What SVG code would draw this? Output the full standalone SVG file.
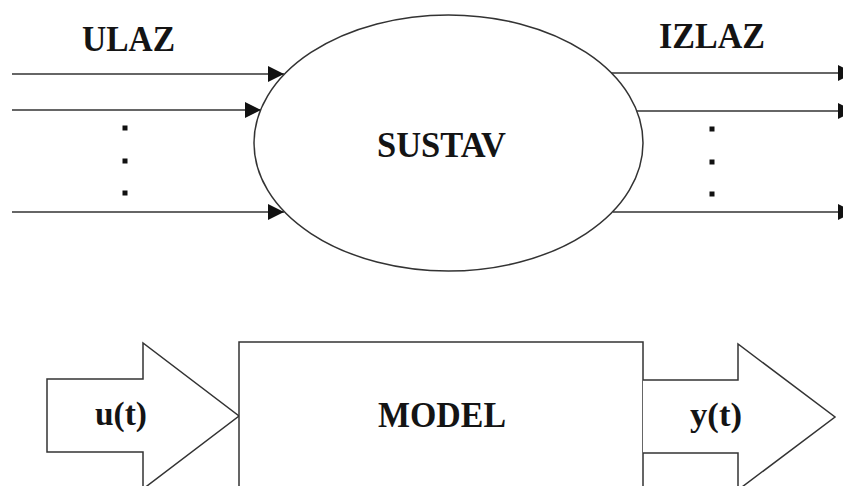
<svg xmlns="http://www.w3.org/2000/svg" width="843" height="486" viewBox="0 0 843 486">
<defs>
<marker id="ah" viewBox="0 0 16 16" refX="16" refY="8" markerWidth="16" markerHeight="16" markerUnits="userSpaceOnUse" orient="auto">
<path d="M0,0 L16,8 L0,16 Z" fill="#111"/>
</marker>
</defs>
<style>
.lbl{font-family:"Liberation Serif","Times New Roman",serif;font-weight:bold;fill:#141414;}
.ln{stroke:#333;stroke-width:1.5;fill:none;}
.shape{stroke:#333;stroke-width:1.5;fill:#fff;}
.dot{fill:#111;}
</style>
<rect width="843" height="486" fill="#fff"/>
<g id="connectors">
<line class="ln" x1="12" y1="74" x2="284" y2="74" marker-end="url(#ah)"/>
<line class="ln" x1="12" y1="110" x2="261" y2="110" marker-end="url(#ah)"/>
<line class="ln" x1="12" y1="212" x2="284" y2="212" marker-end="url(#ah)"/>
<line class="ln" x1="611" y1="73" x2="854" y2="73" marker-end="url(#ah)"/>
<line class="ln" x1="637" y1="111" x2="854" y2="111" marker-end="url(#ah)"/>
<line class="ln" x1="613" y1="212" x2="854" y2="212" marker-end="url(#ah)"/>
</g>
<g id="dots">
<rect class="dot" x="122.5" y="125.5" width="5" height="5"/>
<rect class="dot" x="122.5" y="158.5" width="5" height="5"/>
<rect class="dot" x="122.5" y="190.5" width="5" height="5"/>
<rect class="dot" x="709.5" y="126.5" width="5" height="5"/>
<rect class="dot" x="709.5" y="159.5" width="5" height="5"/>
<rect class="dot" x="709.5" y="191.5" width="5" height="5"/>
</g>
<g id="label-ulaz"><text class="lbl" x="82" y="51" font-size="35" textLength="93" lengthAdjust="spacingAndGlyphs">ULAZ</text></g>
<g id="label-izlaz"><text class="lbl" x="659" y="48" font-size="35" textLength="106" lengthAdjust="spacingAndGlyphs">IZLAZ</text></g>
<g id="sustav">
<ellipse class="shape" cx="448.5" cy="143" rx="194.5" ry="128"/>
<text class="lbl" x="377" y="157" font-size="36" textLength="129" lengthAdjust="spacingAndGlyphs">SUSTAV</text>
</g>
<g id="input-u">
<path class="shape" d="M47,379 L143,379 L143,343 L239,416 L143,489 L143,452 L47,452 Z"/>
<text class="lbl" x="95" y="425" font-size="33" textLength="52" lengthAdjust="spacingAndGlyphs">u(t)</text>
</g>
<g id="model">
<rect class="shape" x="239" y="342" width="404" height="160"/>
<text class="lbl" x="378" y="427" font-size="36" textLength="128" lengthAdjust="spacingAndGlyphs">MODEL</text>
</g>
<g id="output-y">
<path class="shape" d="M643,380 L738,380 L738,344 L835,417 L738,490 L738,453 L643,453"/>
<text class="lbl" x="690" y="426" font-size="33" textLength="52" lengthAdjust="spacingAndGlyphs">y(t)</text>
</g>
</svg>
